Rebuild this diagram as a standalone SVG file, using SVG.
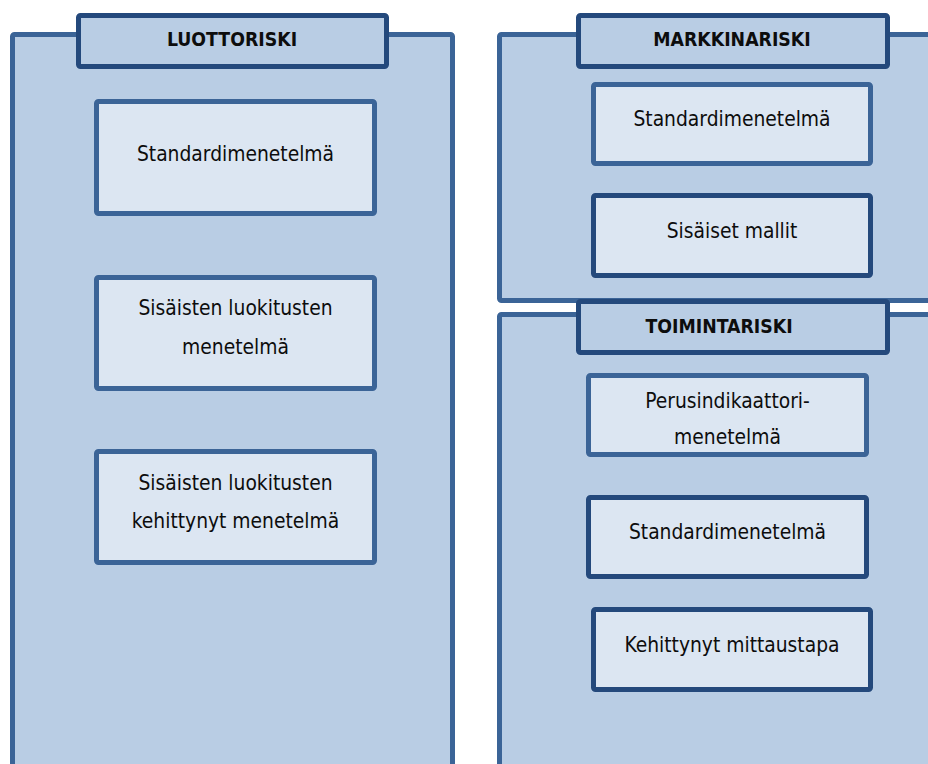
<svg xmlns="http://www.w3.org/2000/svg" width="928" height="764" viewBox="0 0 928 764">
<style>
.panel{fill:#b9cde4;stroke:#3b6497;stroke-width:5}
.head{fill:#b9cde4;stroke:#24497c;stroke-width:5}
.box{fill:#dce6f2;stroke:#3b6497;stroke-width:5}
.boxd{fill:#dce6f2;stroke:#24497c;stroke-width:5}
text{font-family:"DejaVu Sans Condensed","DejaVu Sans",sans-serif;font-stretch:condensed;fill:#0d0d0d;text-anchor:middle;font-size:20.8px}
.h{font-weight:bold;font-size:19.3px}
</style>
<g id="luottoriski">
<rect class="panel" x="12.5" y="34.5" width="440" height="780" rx="2"/>
<rect class="head" x="78.5" y="15.5" width="308" height="51" rx="2"/>
<text class="h" x="232" y="46">LUOTTORISKI</text>
</g>
<g id="markkinariski">
<rect class="panel" x="499.5" y="34.5" width="500" height="266" rx="2"/>
<rect class="head" x="578.5" y="15.5" width="309" height="51" rx="2"/>
<text class="h" x="732" y="46">MARKKINARISKI</text>
</g>
<g id="toimintariski">
<rect class="panel" x="499.5" y="314.5" width="500" height="500" rx="2"/>
<rect class="head" x="578.5" y="301.5" width="309" height="51" rx="2"/>
<text class="h" x="719" y="333">TOIMINTARISKI</text>
</g>
<g id="l-standard">
<rect class="box" x="96.5" y="101.5" width="278" height="112" rx="2"/>
<text x="235.5" y="161">Standardimenetelmä</text>
</g>
<g id="l-sisaisten">
<rect class="box" x="96.5" y="277.5" width="278" height="111" rx="2"/>
<text x="235.5" y="315">Sisäisten luokitusten</text>
<text x="235.5" y="354">menetelmä</text>
</g>
<g id="l-kehittynyt">
<rect class="box" x="96.5" y="451.5" width="278" height="111" rx="2"/>
<text x="235.5" y="490">Sisäisten luokitusten</text>
<text x="235.5" y="528">kehittynyt menetelmä</text>
</g>
<g id="m-standard">
<rect class="box" x="593.5" y="84.5" width="277" height="79" rx="2"/>
<text x="732" y="126">Standardimenetelmä</text>
</g>
<g id="m-sisaiset">
<rect class="boxd" x="593.5" y="195.5" width="277" height="80" rx="2"/>
<text x="732" y="238">Sisäiset mallit</text>
</g>
<g id="t-perus">
<rect class="box" x="588.5" y="375.5" width="278" height="79" rx="2"/>
<text x="727.5" y="408">Perusindikaattori-</text>
<text x="727.5" y="444">menetelmä</text>
</g>
<g id="t-standard">
<rect class="boxd" x="588.5" y="497.5" width="278" height="79" rx="2"/>
<text x="727.5" y="539">Standardimenetelmä</text>
</g>
<g id="t-kehittynyt">
<rect class="boxd" x="593.5" y="609.5" width="277" height="80" rx="2"/>
<text x="732" y="652">Kehittynyt mittaustapa</text>
</g>
<g id="connectors"/>
</svg>
